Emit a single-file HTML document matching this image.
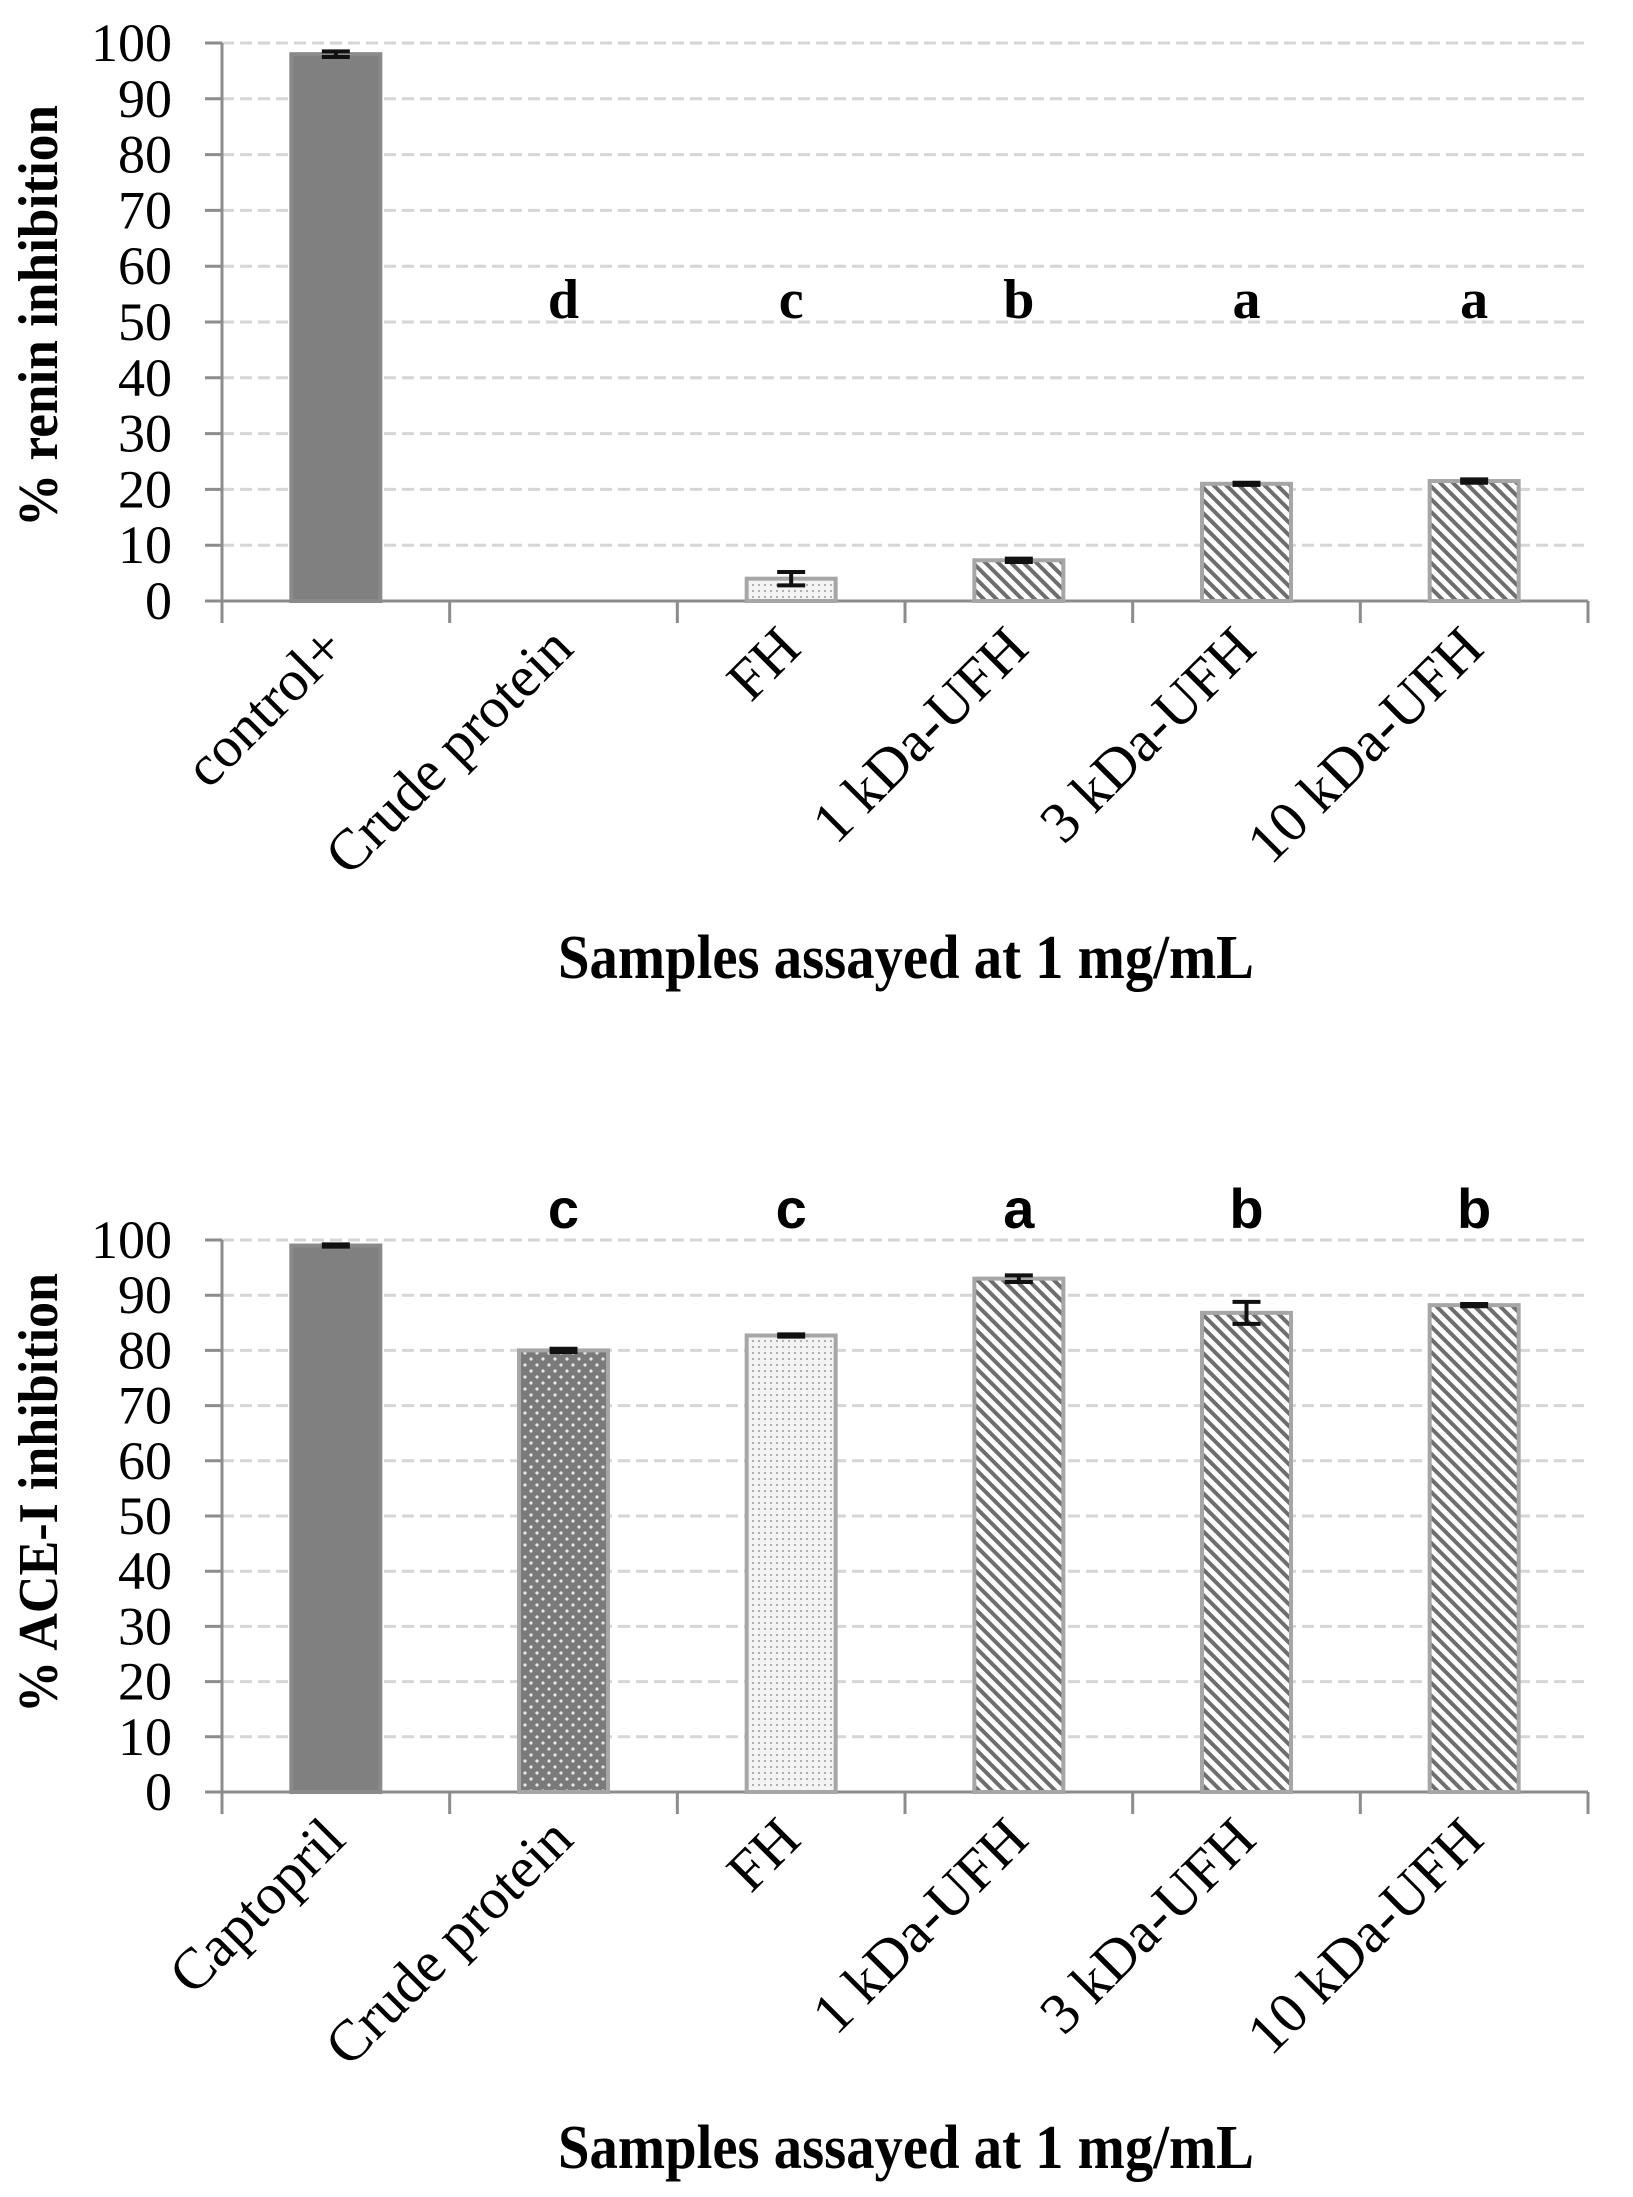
<!DOCTYPE html>
<html><head><meta charset="utf-8"><title>Renin and ACE-I inhibition</title>
<style>
html,body{margin:0;padding:0;background:#fff;}
svg{display:block;}
.tick{font-family:"Liberation Serif",serif;font-size:54px;fill:#000;}
.xl{font-family:"Liberation Serif",serif;font-size:58px;fill:#000;}
.yt{font-family:"Liberation Serif",serif;font-size:56px;font-weight:bold;fill:#000;}
.xt{font-family:"Liberation Serif",serif;font-size:62px;font-weight:bold;fill:#000;}
.let1{font-family:"Liberation Serif",serif;font-size:56px;font-weight:bold;fill:#000;}
.let2{font-family:"Liberation Sans",sans-serif;font-size:56px;font-weight:bold;fill:#000;}
</style></head>
<body>
<svg id="fig" width="1633" height="2197" viewBox="0 0 1633 2197" xmlns="http://www.w3.org/2000/svg">
<defs>
<pattern id="hatch" patternUnits="userSpaceOnUse" width="9" height="9" patternTransform="rotate(-45)">
<rect width="9" height="9" fill="#fff"/><rect width="4" height="9" fill="#6e6e6e"/>
</pattern>
<pattern id="dotsDark" patternUnits="userSpaceOnUse" width="12" height="12">
<rect width="12" height="12" fill="#7a7a7a"/><circle cx="3" cy="3" r="1.6" fill="#e8e8e8"/><circle cx="9" cy="9" r="1.6" fill="#e8e8e8"/>
</pattern>
<pattern id="dotsLight" patternUnits="userSpaceOnUse" width="6" height="6">
<rect width="6" height="6" fill="#f4f4f4"/><circle cx="3" cy="3" r="1.1" fill="#a8a8a8"/>
</pattern>
</defs>
<g id="chart1"></g>
<g id="chart2"></g>
</svg>
<script>
const reninCategories = ["control+","Crude protein","FH","1 kDa-UFH","3 kDa-UFH","10 kDa-UFH"];
const reninValues = [98,0,4,7.3,21,21.5];
const reninErrors = [0.5,0,1.2,0.3,0.2,0.3];
const reninLetters = ["","d","c","b","a","a"];
const reninFills = ["solid","none","dotsLight","hatch","hatch","hatch"];

const aceCategories = ["Captopril","Crude protein","FH","1 kDa-UFH","3 kDa-UFH","10 kDa-UFH"];
const aceValues = [99,80,82.7,93,86.8,88.2];
const aceErrors = [0.2,0.3,0.2,0.6,2,0.2];
const aceLetters = ["","c","c","a","b","b"];
const aceFills = ["solid","dotsDark","dotsLight","hatch","hatch","hatch"];

const yTicks = [0,10,20,30,40,50,60,70,80,90,100];

const NS="http://www.w3.org/2000/svg";
function mk(tag,attrs,parent){const e=document.createElementNS(NS,tag);for(const k in attrs)e.setAttribute(k,attrs[k]);parent.appendChild(e);return e;}

function drawChart(g,cfg){
  const x0=222,x1=1588,y0=cfg.y0,y100=cfg.y100;
  const ys=v=>y0-(v/100)*(y0-y100);
  const n=cfg.cats.length, band=(x1-x0)/n;
  const xc=i=>x0+band*(i+0.5);
  yTicks.forEach(t=>{
    if(t===0)return;
    const l=mk('line',{x1:x0,x2:x1,y1:ys(t),y2:ys(t),stroke:'#d6d6d6','stroke-width':3,'stroke-dasharray':'12 6'},g);
    
    
  });
  const ya=mk('line',{x1:x0,x2:x0,y1:y100,y2:y0+22,stroke:'#8c8c8c','stroke-width':3},g);
  
  
  yTicks.forEach(t=>{
    const tk=mk('line',{x1:x0-17,x2:x0,y1:ys(t),y2:ys(t),stroke:'#8c8c8c','stroke-width':3},g);
    
    
    const lb=mk('text',{x:172,y:ys(t)+18,'text-anchor':'end','class':'tick'},g);
    lb.textContent=t;
    
    
  });
  const xa=mk('line',{x1:x0-17,x2:x1,y1:y0,y2:y0,stroke:'#8c8c8c','stroke-width':3},g);
  
  
  for(let i=0;i<=n;i++){
    const tx=x0+band*i;
    const tk=mk('line',{x1:tx,x2:tx,y1:y0,y2:y0+22,stroke:'#8c8c8c','stroke-width':3},g);
    
    
  }
  cfg.vals.forEach((v,i)=>{
    const bw=89, bx=xc(i)-bw/2, top=ys(v);
    if(cfg.fills[i]!=='none' && v>0){
      const fill=cfg.fills[i]==='solid'?'#808080':'url(#'+cfg.fills[i]+')';
      const b=mk('rect',{x:bx,y:top,width:bw,height:y0-top,fill:fill,stroke:cfg.fills[i]==='solid'?'#8a8a8a':'#a6a6a6','stroke-width':4},g);
      
      
      const e=cfg.errs[i];
      const eg=mk('path',{d:'M'+(xc(i)-14)+' '+ys(v+e)+'H'+(xc(i)+14)+'M'+xc(i)+' '+ys(v+e)+'V'+ys(v-e)+'M'+(xc(i)-14)+' '+ys(v-e)+'H'+(xc(i)+14),stroke:'#111','stroke-width':4,fill:'none'},g);
      
      
    }
    if(cfg.letters[i]){
      const t=mk('text',{x:xc(i),y:cfg.letterY,'text-anchor':'middle','class':cfg.letterClass},g);
      t.textContent=cfg.letters[i];
      
      
    }
    const px=xc(i)+12, py=y0+50;
    const xl=mk('text',{x:px,y:py,'text-anchor':'end','class':'xl',transform:'rotate(-45 '+px+' '+py+')'},g);
    xl.textContent=cfg.cats[i];
    
    
  });
  const yt=mk('text',{x:57,y:cfg.ytY,'text-anchor':'middle','class':'yt',transform:'rotate(-90 57 '+cfg.ytY+')',textLength:cfg.ytLen,lengthAdjust:'spacingAndGlyphs'},g);
  yt.textContent=cfg.ytitle;
  
  
  const xt=mk('text',{x:906,y:cfg.xtY,'text-anchor':'middle','class':'xt',textLength:696,lengthAdjust:'spacingAndGlyphs'},g);
  xt.textContent='Samples assayed at 1 mg/mL';
  
  
}
drawChart(document.getElementById('chart1'),{y0:601,y100:43,cats:reninCategories,vals:reninValues,errs:reninErrors,letters:reninLetters,fills:reninFills,letterY:318,letterClass:'let1',ytitle:'% renin inhibition',ytY:316,ytLen:422,xtY:978});
drawChart(document.getElementById('chart2'),{y0:1792,y100:1240,cats:aceCategories,vals:aceValues,errs:aceErrors,letters:aceLetters,fills:aceFills,letterY:1228,letterClass:'let2',ytitle:'% ACE-I inhibition',ytY:1493,ytLen:440,xtY:2168});
</script>
</body></html>
